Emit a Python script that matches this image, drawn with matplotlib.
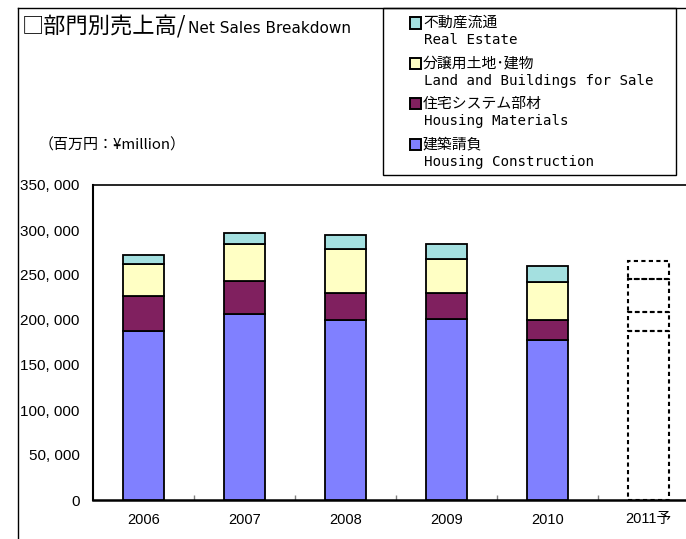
import matplotlib
matplotlib.use("Agg")
import matplotlib.pyplot as plt
from matplotlib.patches import Rectangle
from matplotlib.lines import Line2D
import numpy as np

# ---------------- data ----------------
years = ["2006", "2007", "2008", "2009", "2010", "2011予"]
forecast = [False, False, False, False, False, True]
construction = [188000, 206500, 200000, 201500, 178000, 188000]
materials = [38500, 36500, 30500, 29000, 21800, 20500]
land = [35500, 41500, 48500, 37500, 42500, 37000]
real_estate = [10000, 12500, 15000, 16500, 18000, 20500]

series_jp = ["建築請負", "住宅システム部材", "分譲用土地･建物", "不動産流通"]
series_en = ["Housing Construction", "Housing Materials",
             "Land and Buildings for Sale", "Real Estate"]
colors = ["#8080FF", "#80205F", "#FFFFC4", "#A4E0E0"]

y_ticks = [0, 50000, 100000, 150000, 200000, 250000, 300000, 350000]
y_tick_labels = [f"{v:,}".replace(",", ", ") for v in y_ticks]

title_jp = "□部門別売上高/"
title_en = "Net Sales Breakdown"
unit_label = "（百万円：¥million）"

# ---------------- layout helpers ----------------
W, H, DPI = 686, 539, 100
JP = ["Noto Sans CJK JP", "DejaVu Sans"]
NUM = ["Liberation Sans", "Noto Sans CJK JP", "DejaVu Sans"]


def fx(px):
    return px / W


def fy(py):
    return 1 - py / H


fig = plt.figure(figsize=(W / DPI, H / DPI), dpi=DPI)
fig.patch.set_facecolor("white")

ax = fig.add_axes([fx(93), fy(500), (699 - 93) / W, (500 - 185) / H])

series = [construction, materials, land, real_estate]
x = np.arange(len(years))
bottom = np.zeros(len(years))
for vals, col in zip(series, colors):
    vals = np.array(vals, dtype=float)
    for i in range(len(years)):
        if forecast[i]:
            ax.bar(x[i], vals[i], bottom=bottom[i], width=0.4,
                   facecolor="none", edgecolor="black", linewidth=1.5,
                   linestyle=(0, (2.0, 1.6)), zorder=3)
        else:
            ax.bar(x[i], vals[i], bottom=bottom[i], width=0.4,
                   facecolor=col, edgecolor="black", linewidth=1.3, zorder=3)
    bottom += vals

ax.set_xlim(-0.5, len(years) - 0.5)
ax.set_ylim(0, 350000)

ax.set_xticks(x)
ax.set_xticklabels(years, fontfamily=NUM, fontsize=10.5)
ax.set_xticks(np.arange(0.5, len(years) - 0.5, 1), minor=True)
ax.tick_params(axis="x", which="major", length=0, pad=9)
ax.tick_params(axis="x", which="minor", direction="in", length=3.6,
               width=1, color="#808080")

ax.set_yticks(y_ticks)
ax.set_yticklabels(y_tick_labels, fontfamily=NUM, fontsize=11)
ax.tick_params(axis="y", length=0, pad=9.5)

ax.spines["right"].set_visible(False)
ax.spines["top"].set_linewidth(1.2)
ax.spines["left"].set_linewidth(1.5)
ax.spines["bottom"].set_linewidth(1.8)

# ---------------- outer frame ----------------
fig.add_artist(Line2D([fx(17.5), fx(17.5)], [fy(8), 0], color="black",
                      lw=1, transform=fig.transFigure))
fig.add_artist(Line2D([fx(17.5), 1], [fy(8), fy(8)], color="black",
                      lw=1, transform=fig.transFigure))

# ---------------- titles ----------------
t1 = fig.text(fx(22), fy(33), title_jp, fontfamily=JP, fontsize=16,
              va="baseline", ha="left")
fig.canvas.draw()
bb = t1.get_window_extent(renderer=fig.canvas.get_renderer())
fig.text(bb.x1 / W + 1.5 / W, fy(33), title_en, fontfamily="DejaVu Sans",
         fontsize=11, va="baseline", ha="left")
fig.text(fx(39), fy(145), unit_label, fontfamily=JP, fontsize=10.8,
         va="center", ha="left")

# ---------------- legend box ----------------
fig.add_artist(Rectangle((fx(383), fy(175)), (676 - 383) / W, (175 - 8) / H,
                         fill=False, edgecolor="black", lw=1,
                         transform=fig.transFigure))
order = [3, 2, 1, 0]
for k, s in enumerate(order):
    jy = 23 + k * 40.5
    ey = jy + 17
    fig.add_artist(Rectangle((fx(409.5), fy(jy + 5.5)), 11 / W, 11 / H,
                             facecolor=colors[s], edgecolor="black", lw=1.4,
                             transform=fig.transFigure))
    fig.text(fx(423), fy(jy), series_jp[s], fontfamily=JP, fontsize=10.7,
             va="center", ha="left")
    fig.text(fx(424), fy(ey), series_en[s], fontfamily="DejaVu Sans Mono",
             fontsize=10.2, va="center", ha="left")

fig.savefig("out.png", dpi=DPI, facecolor="white")
